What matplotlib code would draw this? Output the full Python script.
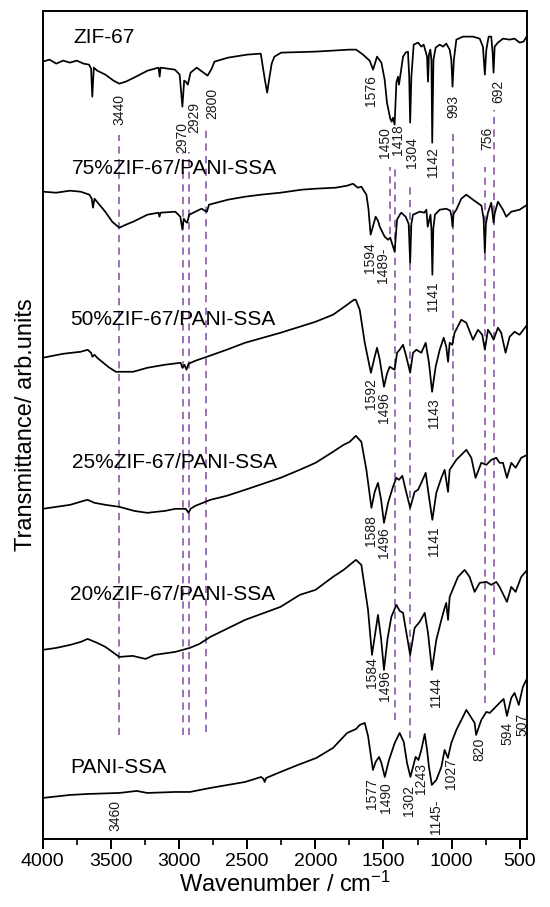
import matplotlib
matplotlib.use('Agg')
import matplotlib.pyplot as plt
from matplotlib.ticker import MultipleLocator

plt.rcParams['font.family'] = ['Liberation Sans', 'DejaVu Sans']
plt.rcParams['mathtext.default'] = 'regular'

### spectra (wavenumber, transmittance a.u.)

zif_wn = [4000, 3950, 3900, 3850, 3800, 3750, 3700, 3660, 3645, 3636, 3625, 3600, 3540, 3480, 3438, 3390,
          3330, 3230, 3150, 3142, 3135, 3030, 2995, 2975, 2962, 2950, 2935, 2915, 2870, 2830, 2790, 2760,
          2740, 2640, 2500, 2400, 2370, 2353, 2340, 2320, 2300, 2250, 2000, 1750, 1700, 1650, 1601, 1576,
          1547, 1515, 1491, 1474, 1450, 1440, 1430, 1418, 1405, 1393, 1386, 1373, 1356, 1337, 1320, 1311,
          1304, 1295, 1278, 1246, 1222, 1205, 1190, 1180, 1173, 1166, 1156, 1148, 1142, 1133, 1117, 1087,
          1063, 1039, 1014, 1002, 993, 983, 965, 916, 843, 794, 770, 756, 745, 728, 709, 699,
          692, 684, 660, 623, 574, 538, 501, 472, 445]
zif_t = [777, 779, 775, 778, 776, 778, 775, 774, 770, 742, 771, 768, 764, 758, 755, 757,
         761, 768, 771, 762, 771, 769, 764, 732, 758, 757, 754, 766, 771, 767, 763, 770,
         777, 781, 784, 785, 759, 746, 758, 775, 782, 786, 787, 789, 789, 784, 778, 769,
         782, 776, 759, 736, 720, 717, 721, 714, 756, 762, 754, 766, 782, 786, 787, 762,
         716, 762, 794, 796, 792, 794, 787, 782, 757, 784, 789, 779, 696, 779, 791, 794,
         792, 795, 789, 779, 752, 779, 799, 802, 802, 800, 792, 764, 789, 802, 802, 786,
         766, 792, 796, 800, 799, 800, 796, 797, 803]

z75_wn = [4000, 3900, 3800, 3721, 3657, 3640, 3631, 3620, 3541, 3490, 3438, 3390, 3336, 3232, 3150, 3143,
          3135, 3027, 2990, 2975, 2965, 2950, 2940, 2925, 2834, 2810, 2795, 2780, 2641, 2515, 2400, 2255,
          2100, 1998, 1850, 1766, 1723, 1689, 1662, 1625, 1610, 1594, 1557, 1540, 1527, 1491, 1466, 1450,
          1418, 1400, 1380, 1369, 1337, 1315, 1304, 1295, 1283, 1234, 1200, 1185, 1175, 1165, 1155, 1148,
          1141, 1134, 1122, 1087, 1039, 1010, 1000, 993, 985, 965, 929, 892, 843, 781, 765, 756,
          748, 733, 709, 699, 692, 684, 660, 623, 599, 562, 501, 445]
z75_t = [647, 646, 648, 647, 644, 640, 631, 640, 627, 617, 611, 614, 617, 624, 626, 622,
         626, 627, 622, 609, 620, 617, 616, 624, 630, 628, 627, 634, 639, 642, 644, 646,
         649, 650, 651, 653, 655, 651, 652, 644, 630, 604, 622, 618, 612, 602, 599, 601,
         587, 619, 624, 626, 622, 615, 576, 615, 624, 627, 626, 629, 612, 618, 624, 610,
         564, 610, 624, 629, 630, 628, 622, 612, 625, 629, 640, 644, 639, 633, 620, 586,
         615, 626, 636, 625, 616, 625, 637, 629, 622, 627, 629, 634]

z50_wn = [4000, 3850, 3721, 3670, 3645, 3635, 3620, 3600, 3520, 3464, 3400, 3336, 3232, 3104, 2988, 2975,
          2960, 2945, 2930, 2880, 2795, 2650, 2515, 2255, 2114, 1998, 1870, 1766, 1747, 1716, 1703, 1674,
          1637, 1592, 1564, 1547, 1527, 1496, 1474, 1454, 1418, 1400, 1381, 1356, 1332, 1304, 1283, 1258,
          1222, 1190, 1166, 1143, 1117, 1087, 1058, 1039, 1026, 1014, 995, 978, 929, 892, 843, 806,
          775, 756, 733, 709, 692, 660, 636, 604, 574, 538, 501, 445]
z50_t = [481, 485, 487, 489, 486, 482, 484, 481, 472, 467, 467, 467, 471, 474, 476, 471,
         474, 469, 475, 478, 482, 489, 496, 506, 512, 517, 524, 534, 536, 539, 539, 529,
         496, 466, 482, 491, 479, 452, 465, 472, 469, 486, 489, 494, 482, 466, 486, 489,
         486, 496, 476, 447, 472, 489, 501, 492, 477, 496, 494, 506, 519, 516, 499, 509,
         504, 489, 509, 504, 499, 511, 506, 486, 502, 507, 504, 514]

z25_wn = [4000, 3900, 3798, 3700, 3670, 3620, 3540, 3438, 3330, 3284, 3232, 3100, 3027, 2950, 2930, 2915,
          2880, 2770, 2650, 2515, 2255, 2114, 1998, 1870, 1792, 1747, 1702, 1662, 1625, 1588, 1564, 1540,
          1517, 1496, 1466, 1430, 1405, 1386, 1361, 1337, 1304, 1271, 1246, 1222, 1190, 1166, 1141, 1112,
          1075, 1051, 1026, 1014, 965, 892, 855, 824, 782, 745, 709, 672, 648, 623, 594, 562,
          530, 489, 445]
z25_t = [330, 332, 334, 338, 339, 336, 334, 332, 328, 327, 326, 328, 330, 330, 326, 330,
         333, 339, 343, 349, 361, 369, 376, 387, 394, 397, 403, 397, 369, 331, 347, 356,
         339, 316, 336, 352, 361, 359, 363, 349, 331, 347, 349, 356, 366, 342, 319, 346,
         361, 369, 347, 369, 379, 389, 381, 361, 376, 374, 379, 381, 376, 376, 361, 376,
         371, 381, 384]

z20_wn = [4000, 3900, 3798, 3720, 3670, 3600, 3540, 3438, 3340, 3245, 3180, 3027, 2920, 2850, 2770, 2515,
          2255, 2114, 1998, 1870, 1792, 1702, 1662, 1613, 1584, 1540, 1517, 1496, 1470, 1442, 1405, 1381,
          1356, 1344, 1304, 1271, 1234, 1197, 1173, 1144, 1112, 1075, 1051, 1039, 1026, 1014, 953, 904,
          868, 831, 794, 745, 709, 672, 648, 594, 562, 530, 489, 445]
z20_t = [189, 191, 194, 197, 200, 196, 192, 182, 183, 180, 184, 187, 191, 195, 202, 219,
         232, 244, 249, 262, 269, 279, 274, 229, 184, 224, 200, 169, 200, 222, 234, 228,
         226, 216, 184, 211, 217, 226, 206, 169, 199, 219, 231, 236, 219, 242, 262, 269,
         262, 247, 256, 257, 254, 257, 252, 237, 252, 247, 262, 269]

pani_wn = [4000, 3800, 3670, 3438, 3310, 3232, 3027, 2920, 2770, 2515, 2397, 2380, 2371, 2360, 2255, 2127,
           1992, 1870, 1766, 1700, 1674, 1637, 1613, 1577, 1557, 1532, 1515, 1490, 1459, 1417, 1381, 1351,
           1327, 1302, 1283, 1264, 1243, 1222, 1197, 1180, 1166, 1145, 1112, 1075, 1051, 1027, 1002, 965,
           917, 892, 868, 831, 820, 782, 745, 720, 684, 648, 618, 594, 562, 538, 507, 477, 445]
pani_t = [41, 44, 45, 46, 48, 46, 47, 47, 51, 57, 62, 60, 57, 61, 67, 74,
          81, 91, 106, 110, 114, 116, 103, 69, 77, 82, 76, 62, 79, 96, 106, 97,
          76, 62, 72, 82, 79, 89, 105, 89, 72, 54, 59, 72, 89, 81, 96, 109,
          122, 129, 124, 116, 104, 119, 127, 126, 131, 136, 140, 123, 141, 146, 134, 152, 161]

samples = ['ZIF-67', '75%ZIF-67/PANI-SSA', '50%ZIF-67/PANI-SSA', '25%ZIF-67/PANI-SSA',
           '20%ZIF-67/PANI-SSA', 'PANI-SSA']
sample_pos = [(3773, 801), (3785, 670), (3798, 519), (3785, 376), (3798, 244), (3798, 71)]

# dashed guide lines: wavenumber, top, bottom
guide_wn  = [3440, 2970, 2929, 2800, 1450, 1418, 1304, 993, 756, 692]
guide_top = [704, 687, 687, 711, 672, 672, 657, 709, 672, 729]
guide_bot = [104, 104, 104, 107, 605, 119, 101, 382, 136, 184]

# peak labels: text, wavenumber, top of label
peaks = [('3440', 3438, 745), ('2970', 2978, 717), ('2929', 2890, 737), ('2800', 2757, 751),
         ('1576', 1589, 764), ('1450', 1490, 712), ('1418', 1392, 714), ('1304', 1288, 702),
         ('1142', 1136, 692), ('993', 985, 744), ('756', 740, 712), ('692', 660, 759),
         ('1594', 1597, 596), ('1489-', 1505, 591), ('1141', 1136, 557),
         ('1592', 1593, 461), ('1496', 1498, 447), ('1143', 1126, 441),
         ('1588', 1589, 324), ('1496', 1496, 312), ('1141', 1131, 312),
         ('1584', 1581, 182), ('1496', 1491, 169), ('1144', 1112, 162),
         ('1577', 1583, 61), ('1490', 1479, 57), ('1302', 1312, 54), ('1243', 1222, 76),
         ('1145-', 1112, 39), ('1027', 1002, 81), ('820', 794, 101), ('594', 587, 117),
         ('507', 481, 126), ('3460', 3464, 39)]

fig = plt.figure(figsize=(5.5, 9.07), dpi=100)
ax = fig.add_axes([0.0776, 0.075, 0.881, 0.9133])

for g, t, b in zip(guide_wn, guide_top, guide_bot):
    ax.plot([g, g], [b, t], color='#9566ad', lw=1.3, linestyle=(0, (4, 3)))

for wn, t in [(zif_wn, zif_t), (z75_wn, z75_t), (z50_wn, z50_t),
              (z25_wn, z25_t), (z20_wn, z20_t), (pani_wn, pani_t)]:
    ax.plot(wn, t, color='black', lw=1.25)

for name, (x, y) in zip(samples, sample_pos):
    ax.text(x, y, name, fontsize=15, ha='left', va='center')

for s, x, y in peaks:
    ax.text(x, y, s, fontsize=10, rotation=90, ha='center', va='top', color='#1a1a1a')

ax.set_xlim(4000, 445)
ax.set_ylim(0, 828)
ax.xaxis.set_major_locator(MultipleLocator(500))
ax.xaxis.set_minor_locator(MultipleLocator(250))
ax.set_yticks([])
ax.tick_params(axis='x', which='major', direction='out', length=7, width=1.4, labelsize=14, pad=3)
ax.tick_params(axis='x', which='minor', direction='out', length=4, width=1.2)
for sp in ax.spines.values():
    sp.set_linewidth(1.4)

ax.set_xlabel('Wavenumber / cm$^{-1}$', fontsize=17, labelpad=1)
ax.set_ylabel('Transmittance/ arb.units', fontsize=17, labelpad=4)

plt.savefig('out.png', dpi=100)
